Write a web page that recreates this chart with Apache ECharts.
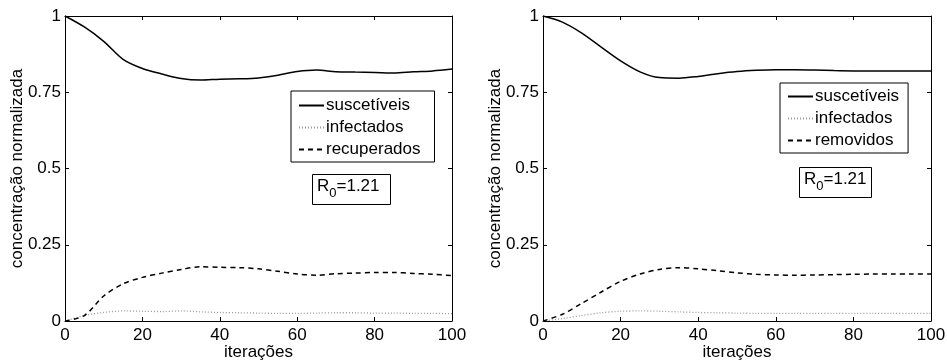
<!DOCTYPE html>
<html>
<head>
<meta charset="utf-8">
<script src="https://cdn.jsdelivr.net/npm/echarts@6/dist/echarts.min.js"></script>
<style>
html,body{margin:0;padding:0;background:#fff;}
#chart{width:947px;height:361px;}
</style>
</head>
<body>
<div id="chart"></div>
<script>
// ---- data ----
var iter = [0,5,10,15,20,25,30,35,40,45,50,55,60,65,70,75,80,85,90,95,100];

var leftSus = [1.0,0.964,0.917,0.858,0.828,0.810,0.795,0.790,0.793,0.794,0.797,0.806,0.818,0.823,0.817,0.816,0.815,0.813,0.817,0.820,0.826];
var leftInf = [0,0.018,0.028,0.033,0.032,0.031,0.033,0.030,0.028,0.027,0.026,0.025,0.025,0.026,0.027,0.027,0.026,0.026,0.025,0.025,0.024];
var leftRec = [0,0.018,0.082,0.122,0.143,0.157,0.169,0.178,0.176,0.175,0.171,0.163,0.154,0.150,0.155,0.157,0.159,0.159,0.156,0.153,0.149];

var rightSus = [1.0,0.980,0.944,0.898,0.853,0.817,0.798,0.796,0.802,0.811,0.818,0.822,0.824,0.824,0.823,0.821,0.820,0.820,0.820,0.820,0.820];
var rightInf = [0,0.008,0.018,0.027,0.032,0.033,0.032,0.030,0.028,0.027,0.026,0.025,0.025,0.025,0.025,0.025,0.025,0.025,0.025,0.025,0.025];
var rightRem = [0,0.022,0.058,0.095,0.130,0.154,0.169,0.175,0.171,0.165,0.158,0.153,0.151,0.150,0.151,0.152,0.153,0.154,0.154,0.154,0.154];

var xTicks = {min:0, max:100, interval:20};
var yTicks = {min:0, max:1, interval:0.25};
var legendLeft = ['suscetíveis','infectados','recuperados'];
var legendRight = ['suscetíveis','infectados','removidos'];
var r0Text = '1.21';

function pairs(xs, ys){ return xs.map(function(x,i){return [x, ys[i]];}); }

var FONT = "'Liberation Sans', Arial, sans-serif";
var FS = 17;
var chart = echarts.init(document.getElementById('chart'), null, {renderer:'canvas'});

function xAx(gi, pos, showLabel){
  return {
    type:'value', gridIndex:gi, position:pos, min:xTicks.min, max:xTicks.max, interval:xTicks.interval,
    name: showLabel ? 'iterações' : '', nameLocation:'middle', nameGap:23, nameMoveOverlap:false,
    nameTextStyle:{color:'#000', fontSize:FS, fontFamily:FONT},
    axisLine:{show:true, onZero:false, lineStyle:{color:'#000', width:1}},
    axisTick:{show:true, inside:true, length:4, lineStyle:{color:'#000'}},
    axisLabel:{show:showLabel, color:'#000', fontSize:FS, fontFamily:FONT, margin:6},
    splitLine:{show:false}
  };
}
function yAx(gi, pos, showLabel){
  return {
    type:'value', gridIndex:gi, position:pos, min:yTicks.min, max:yTicks.max, interval:yTicks.interval,
    name: showLabel ? 'concentração normalizada' : '', nameLocation:'middle', nameGap:39, nameMoveOverlap:false,
    nameTextStyle:{color:'#000', fontSize:FS, fontFamily:FONT},
    axisLine:{show:true, onZero:false, lineStyle:{color:'#000', width:1}},
    axisTick:{show:true, inside:true, length:4, lineStyle:{color:'#000'}},
    axisLabel:{show:showLabel, color:'#000', fontSize:FS, fontFamily:FONT, margin:4},
    splitLine:{show:false}
  };
}

function ser(name, xi, yi, data, style){
  return {
    type:'line', name:name, xAxisIndex:xi, yAxisIndex:yi, data:data,
    symbol:'none', smooth:0.3, silent:true, animation:false,
    lineStyle:style, itemStyle:{color:style.color}
  };
}
var solid = {color:'#000', width:1.5, type:'solid'};
var dotted = {color:'#999', width:1.3, type:[1,2]};
var dashed = {color:'#000', width:1.5, type:[5,4]};

function legendCfg(names, left, top, pad){
  return {
    data:names.map(function(n){return {name:n};}),
    orient:'vertical', left:left, top:top, padding:pad,
    itemWidth:25, itemHeight:14, itemGap:5,
    borderColor:'#000', borderWidth:1, backgroundColor:'#fff',
    itemStyle:{opacity:0},
    textStyle:{color:'#000', fontSize:FS, fontFamily:FONT, padding:[0,0,0,-3]},
    selectedMode:false, inactiveColor:'#000'
  };
}

function r0Title(left, top, padR){
  return {
    text:'{r|R}{s|0}{r|=' + r0Text + '}',
    left:left, top:top, padding:[4,padR,5,5],
    borderColor:'#000', borderWidth:1, backgroundColor:'#fff',
    textStyle:{
      fontWeight:'normal',
      rich:{
        r:{fontSize:FS, fontFamily:FONT, fontWeight:'normal', color:'#000', lineHeight:18, padding:[0,0,5,0], verticalAlign:'bottom'},
        s:{fontSize:13, fontFamily:FONT, fontWeight:'normal', color:'#000', lineHeight:15, verticalAlign:'bottom'}
      }
    }
  };
}

var option = {
  animation:false,
  backgroundColor:'#fff',
  grid:[
    {left:65, top:16, width:387, height:305, containLabel:false, outerBoundsMode:'none'},
    {left:543, top:16, width:388, height:305, containLabel:false, outerBoundsMode:'none'}
  ],
  xAxis:[ xAx(0,'bottom',true), xAx(0,'top',false), xAx(1,'bottom',true), xAx(1,'top',false) ],
  yAxis:[ yAx(0,'left',true), yAx(0,'right',false), yAx(1,'left',true), yAx(1,'right',false) ],
  legend:[
    legendCfg(legendLeft, 291, 91, [6,14,4,7]),
    legendCfg(legendRight, 780, 83, [5,9,4,7])
  ],
  title:[ r0Title(312,178,11), r0Title(799,171,5) ],
  series:[
    ser(legendLeft[0],0,0,pairs(iter,leftSus),solid),
    ser(legendLeft[1],0,0,pairs(iter,leftInf),dotted),
    ser(legendLeft[2],0,0,pairs(iter,leftRec),dashed),
    ser(legendRight[0],2,2,pairs(iter,rightSus),solid),
    ser(legendRight[1],2,2,pairs(iter,rightInf),dotted),
    ser(legendRight[2],2,2,pairs(iter,rightRem),dashed)
  ]
};
chart.setOption(option);
</script>
</body>
</html>
